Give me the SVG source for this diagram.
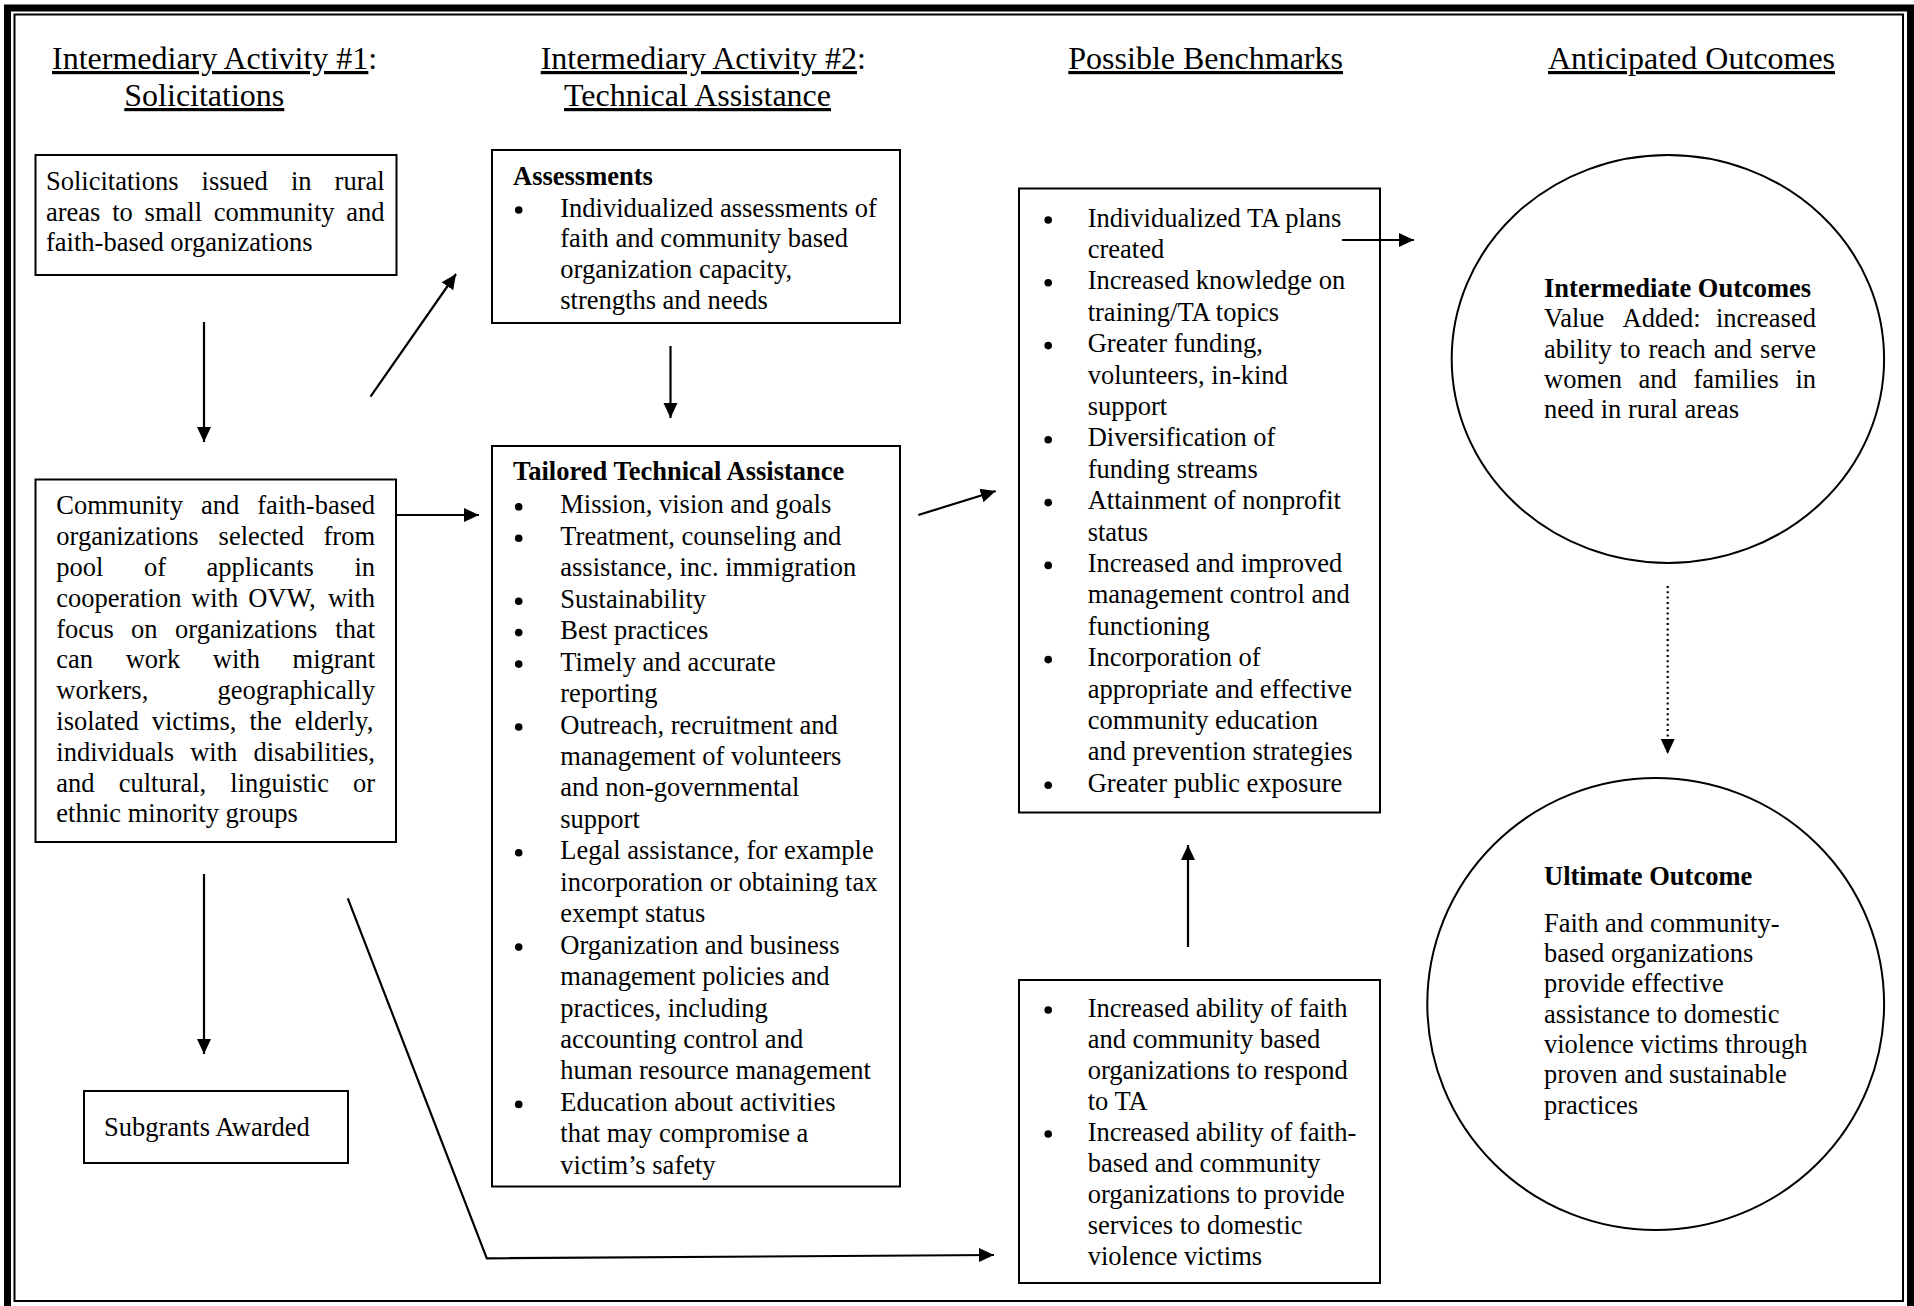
<svg xmlns="http://www.w3.org/2000/svg" width="1914" height="1306" viewBox="0 0 1914 1306">
<defs>
<style>
.t{font-family:"Liberation Serif","Times New Roman",serif;font-size:26.5px;fill:#000}
.b{font-weight:bold}
.h{font-family:"Liberation Serif","Times New Roman",serif;font-size:32px;fill:#000}
.u{text-decoration:underline}
.box{fill:#fff;stroke:#000;stroke-width:2}
.conn{fill:none;stroke:#000;stroke-width:2.2}
.dotted{stroke-dasharray:2 3.3}
.bul{fill:#000}
</style>
<marker id="ah" markerUnits="userSpaceOnUse" markerWidth="16" markerHeight="16" viewBox="0 0 16 16" refX="15" refY="8" orient="auto">
<path d="M0,1 L15,8 L0,15 z" fill="#000"/>
</marker>
</defs>
<rect x="0" y="0" width="1914" height="1306" fill="#fff"/>
<g id="frame">
<rect x="7.5" y="8" width="1903" height="1302" fill="none" stroke="#000" stroke-width="7"/>
<rect x="14.5" y="14.5" width="1888.5" height="1286.5" fill="none" stroke="#000" stroke-width="2"/>
</g>
<g id="headers">
<text class="h" x="52" y="69"><tspan class="u">Intermediary Activity #1</tspan>:</text>
<text class="h u" x="124.3" y="106">Solicitations</text>
<text class="h" x="540.7" y="69"><tspan class="u">Intermediary Activity #2</tspan>:</text>
<text class="h u" x="564" y="106">Technical Assistance</text>
<text class="h u" x="1068.3" y="69">Possible Benchmarks</text>
<text class="h u" x="1548" y="69">Anticipated Outcomes</text>
</g>
<g id="solicitations-issued">
<rect class="box" x="35.5" y="155" width="361" height="120"/>
<text class="t">
<tspan x="46" y="190">Solicitations </tspan><tspan x="201.6" y="190">issued </tspan><tspan x="290.9" y="190">in </tspan><tspan x="334.6" y="190">rural</tspan>
<tspan x="46" y="220.5">areas </tspan><tspan x="112.2" y="220.5">to </tspan><tspan x="144.6" y="220.5">small </tspan><tspan x="213.8" y="220.5">community </tspan><tspan x="346.3" y="220.5">and</tspan>
<tspan x="46" y="251">faith-based organizations</tspan>
</text>
</g>
<g id="organizations-selected">
<rect class="box" x="35.5" y="479.5" width="360.5" height="362.5"/>
<text class="t">
<tspan x="56.3" y="514.3">Community </tspan><tspan x="200.95" y="514.3">and </tspan><tspan x="257.3" y="514.3">faith-based</tspan>
<tspan x="56.3" y="545.1">organizations </tspan><tspan x="218.6" y="545.1">selected </tspan><tspan x="323.5" y="545.1">from</tspan>
<tspan x="56.3" y="575.9">pool </tspan><tspan x="143.9" y="575.9">of </tspan><tspan x="206.4" y="575.9">applicants </tspan><tspan x="354.4" y="575.9">in</tspan>
<tspan x="56.3" y="606.7">cooperation </tspan><tspan x="191.2" y="606.7">with </tspan><tspan x="248.2" y="606.7">OVW, </tspan><tspan x="327.9" y="606.7">with</tspan>
<tspan x="56.3" y="637.5">focus </tspan><tspan x="131.1" y="637.5">on </tspan><tspan x="175.1" y="637.5">organizations </tspan><tspan x="335.3" y="637.5">that</tspan>
<tspan x="56.3" y="668.3">can </tspan><tspan x="125.7" y="668.3">work </tspan><tspan x="212.8" y="668.3">with </tspan><tspan x="292.6" y="668.3">migrant</tspan>
<tspan x="56.3" y="699.1">workers, </tspan><tspan x="217.5" y="699.1">geographically</tspan>
<tspan x="56.3" y="729.9">isolated </tspan><tspan x="151.7" y="729.9">victims, </tspan><tspan x="249.4" y="729.9">the </tspan><tspan x="294.8" y="729.9">elderly,</tspan>
<tspan x="56.3" y="760.7">individuals </tspan><tspan x="190.2" y="760.7">with </tspan><tspan x="253.5" y="760.7">disabilities,</tspan>
<tspan x="56.3" y="791.5">and </tspan><tspan x="118.7" y="791.5">cultural, </tspan><tspan x="230.3" y="791.5">linguistic </tspan><tspan x="353" y="791.5">or</tspan>
<tspan x="56.3" y="822.3">ethnic minority groups</tspan>
</text>
</g>
<g id="subgrants">
<rect class="box" x="84" y="1091" width="264" height="72"/>
<text class="t" x="104" y="1136">Subgrants Awarded</text>
</g>
<g id="assessments">
<rect class="box" x="492" y="150" width="408" height="173"/>
<text class="t b" x="513" y="184.5">Assessments</text>
<circle class="bul" cx="518.7" cy="210" r="3.8"/>
<text class="t">
<tspan x="560.3" y="216.5">Individualized assessments of</tspan>
<tspan x="560.3" y="247.4">faith and community based</tspan>
<tspan x="560.3" y="278.3">organization capacity,</tspan>
<tspan x="560.3" y="309.2">strengths and needs</tspan>
</text>
</g>
<g id="tailored-ta">
<rect class="box" x="492" y="446" width="408" height="740.5"/>
<text class="t b" x="513" y="480">Tailored Technical Assistance</text>
<g class="bul">
<circle cx="518.7" cy="506.8" r="3.8"/>
<circle cx="518.7" cy="538.3" r="3.8"/>
<circle cx="518.7" cy="601.2" r="3.8"/>
<circle cx="518.7" cy="632.6" r="3.8"/>
<circle cx="518.7" cy="664.1" r="3.8"/>
<circle cx="518.7" cy="727" r="3.8"/>
<circle cx="518.7" cy="852.8" r="3.8"/>
<circle cx="518.7" cy="947.1" r="3.8"/>
<circle cx="518.7" cy="1104.4" r="3.8"/>
</g>
<text class="t">
<tspan x="560.3" y="513.3">Mission, vision and goals</tspan>
<tspan x="560.3" y="544.8">Treatment, counseling and</tspan>
<tspan x="560.3" y="576.2">assistance, inc. immigration</tspan>
<tspan x="560.3" y="607.7">Sustainability</tspan>
<tspan x="560.3" y="639.1">Best practices</tspan>
<tspan x="560.3" y="670.6">Timely and accurate</tspan>
<tspan x="560.3" y="702">reporting</tspan>
<tspan x="560.3" y="733.5">Outreach, recruitment and</tspan>
<tspan x="560.3" y="764.9">management of volunteers</tspan>
<tspan x="560.3" y="796.4">and non-governmental</tspan>
<tspan x="560.3" y="827.8">support</tspan>
<tspan x="560.3" y="859.3">Legal assistance, for example</tspan>
<tspan x="560.3" y="890.7">incorporation or obtaining tax</tspan>
<tspan x="560.3" y="922.2">exempt status</tspan>
<tspan x="560.3" y="953.6">Organization and business</tspan>
<tspan x="560.3" y="985.1">management policies and</tspan>
<tspan x="560.3" y="1016.5">practices, including</tspan>
<tspan x="560.3" y="1048">accounting control and</tspan>
<tspan x="560.3" y="1079.4">human resource management</tspan>
<tspan x="560.3" y="1110.9">Education about activities</tspan>
<tspan x="560.3" y="1142.3">that may compromise a</tspan>
<tspan x="560.3" y="1173.8">victim’s safety</tspan>
</text>
</g>
<g id="benchmarks">
<rect class="box" x="1019" y="188.5" width="361" height="624"/>
<g class="bul">
<circle cx="1048.2" cy="220" r="3.8"/>
<circle cx="1048.2" cy="282.8" r="3.8"/>
<circle cx="1048.2" cy="345.6" r="3.8"/>
<circle cx="1048.2" cy="439.8" r="3.8"/>
<circle cx="1048.2" cy="502.6" r="3.8"/>
<circle cx="1048.2" cy="565.4" r="3.8"/>
<circle cx="1048.2" cy="659.6" r="3.8"/>
<circle cx="1048.2" cy="785.2" r="3.8"/>
</g>
<text class="t">
<tspan x="1087.7" y="226.5">Individualized TA plans</tspan>
<tspan x="1087.7" y="257.9">created</tspan>
<tspan x="1087.7" y="289.3">Increased knowledge on</tspan>
<tspan x="1087.7" y="320.7">training/TA topics</tspan>
<tspan x="1087.7" y="352.1">Greater funding,</tspan>
<tspan x="1087.7" y="383.5">volunteers, in-kind</tspan>
<tspan x="1087.7" y="414.9">support</tspan>
<tspan x="1087.7" y="446.3">Diversification of</tspan>
<tspan x="1087.7" y="477.7">funding streams</tspan>
<tspan x="1087.7" y="509.1">Attainment of nonprofit</tspan>
<tspan x="1087.7" y="540.5">status</tspan>
<tspan x="1087.7" y="571.9">Increased and improved</tspan>
<tspan x="1087.7" y="603.3">management control and</tspan>
<tspan x="1087.7" y="634.7">functioning</tspan>
<tspan x="1087.7" y="666.1">Incorporation of</tspan>
<tspan x="1087.7" y="697.5">appropriate and effective</tspan>
<tspan x="1087.7" y="728.9">community education</tspan>
<tspan x="1087.7" y="760.3">and prevention strategies</tspan>
<tspan x="1087.7" y="791.7">Greater public exposure</tspan>
</text>
</g>
<g id="capacity-benchmarks">
<rect class="box" x="1019" y="980" width="361" height="303"/>
<g class="bul">
<circle cx="1048.2" cy="1010" r="3.8"/>
<circle cx="1048.2" cy="1134" r="3.8"/>
</g>
<text class="t">
<tspan x="1087.7" y="1016.5">Increased ability of faith</tspan>
<tspan x="1087.7" y="1047.5">and community based</tspan>
<tspan x="1087.7" y="1078.5">organizations to respond</tspan>
<tspan x="1087.7" y="1109.5">to TA</tspan>
<tspan x="1087.7" y="1140.5">Increased ability of faith-</tspan>
<tspan x="1087.7" y="1171.5">based and community</tspan>
<tspan x="1087.7" y="1202.5">organizations to provide</tspan>
<tspan x="1087.7" y="1233.5">services to domestic</tspan>
<tspan x="1087.7" y="1264.5">violence victims</tspan>
</text>
</g>
<g id="intermediate-outcomes">
<ellipse class="box" cx="1667.9" cy="359" rx="216.2" ry="204"/>
<text class="t b" x="1544" y="296.7">Intermediate Outcomes</text>
<text class="t">
<tspan x="1544" y="327.1">Value </tspan><tspan x="1622.6" y="327.1">Added: </tspan><tspan x="1715.9" y="327.1">increased</tspan>
<tspan x="1544" y="357.5">ability </tspan><tspan x="1619.8" y="357.5">to </tspan><tspan x="1648.4" y="357.5">reach </tspan><tspan x="1713.8" y="357.5">and </tspan><tspan x="1760.1" y="357.5">serve</tspan>
<tspan x="1544" y="387.9">women </tspan><tspan x="1638.6" y="387.9">and </tspan><tspan x="1693.4" y="387.9">families </tspan><tspan x="1795.4" y="387.9">in</tspan>
<tspan x="1544" y="418.3">need in rural areas</tspan>
</text>
</g>
<g id="ultimate-outcome">
<ellipse class="box" cx="1655.7" cy="1004" rx="228.4" ry="226"/>
<text class="t b" x="1544" y="885">Ultimate Outcome</text>
<text class="t">
<tspan x="1544" y="931.7">Faith and community-</tspan>
<tspan x="1544" y="962">based organizations</tspan>
<tspan x="1544" y="992.3">provide effective</tspan>
<tspan x="1544" y="1022.6">assistance to domestic</tspan>
<tspan x="1544" y="1052.9">violence victims through</tspan>
<tspan x="1544" y="1083.2">proven and sustainable</tspan>
<tspan x="1544" y="1113.5">practices</tspan>
</text>
</g>
<g id="connectors">
<path class="conn" d="M204,322 V442" marker-end="url(#ah)"/>
<path class="conn" d="M370.5,396.7 L456,274" marker-end="url(#ah)"/>
<path class="conn" d="M670.5,346 V418" marker-end="url(#ah)"/>
<path class="conn" d="M396,515 H479" marker-end="url(#ah)"/>
<path class="conn" d="M918.3,515 L995.7,491" marker-end="url(#ah)"/>
<path class="conn" d="M1342,240 H1414" marker-end="url(#ah)"/>
<path class="conn" d="M1188,947 V845" marker-end="url(#ah)"/>
<path class="conn dotted" d="M1667.7,586 V754" marker-end="url(#ah)"/>
<path class="conn" d="M204,874 V1054" marker-end="url(#ah)"/>
<path class="conn" d="M347.8,898.3 L486.8,1258.3 L994,1255" marker-end="url(#ah)"/>
</g>
</svg>
